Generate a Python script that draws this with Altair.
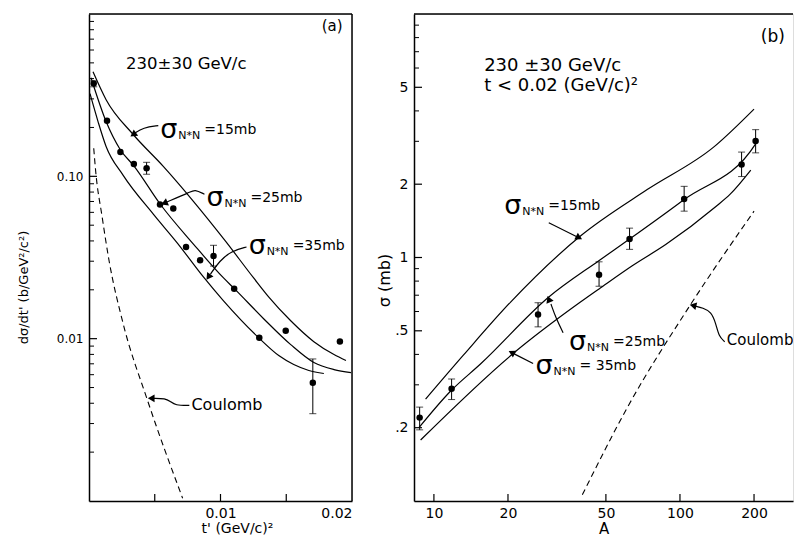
import altair as alt
import pandas as pd

FONT = "DejaVu Sans"
LW, LH = 263, 487
RW, RH = 379, 487

# ---------------- panel (a) data ----------------
a_t = [0.00036, 0.00137, 0.00239, 0.00341, 0.00438, 0.0054, 0.00641, 0.00738,
       0.00845, 0.00947, 0.01104, 0.01295, 0.01496, 0.01702, 0.01908]
a_v = [0.373, 0.220, 0.141, 0.119, 0.112, 0.067, 0.0634, 0.0367,
       0.0304, 0.0323, 0.0203, 0.01014, 0.0112, 0.00535, 0.0096]
a_err_t = [0.00036, 0.00438, 0.00947, 0.01702]
a_err_lo = [0.356, 0.103, 0.028, 0.00345]
a_err_hi = [0.387, 0.122, 0.0376, 0.0075]

a_c15_t = [0.000305, 0.0013, 0.00336, 0.00565, 0.00794, 0.01038, 0.01252, 0.01366, 0.01534, 0.0171, 0.01863, 0.01954]
a_c15_v = [0.4406, 0.2967, 0.181, 0.1152, 0.0702, 0.0399, 0.02366, 0.0181, 0.01289, 0.00958, 0.00798, 0.00733]
a_c25_t = [0.000153, 0.0013, 0.00237, 0.00344, 0.00542, 0.00794, 0.01023, 0.01107, 0.01328, 0.01534, 0.0171, 0.01863, 0.01992]
a_c25_v = [0.4049, 0.2175, 0.1464, 0.1152, 0.0673, 0.03826, 0.02366, 0.02026, 0.01327, 0.00919, 0.00713, 0.00645, 0.00618]
a_c35_t = [0.0000763, 0.000687, 0.0013, 0.0026, 0.00489, 0.00672, 0.0087, 0.01023, 0.0129, 0.01443, 0.01557, 0.01672, 0.01786]
a_c35_v = [0.323, 0.2175, 0.1528, 0.1014, 0.0585, 0.0388, 0.024, 0.0171, 0.01014, 0.00787, 0.00693, 0.00637, 0.0061]
a_coul_t = [0.00036, 0.00051, 0.00099, 0.00153, 0.00254, 0.00445, 0.00712]
a_coul_v = [0.149, 0.107, 0.0569, 0.0301, 0.0129, 0.00417, 0.00104]

a_y_major = [0.01, 0.1]
a_y_minor = [0.002, 0.003, 0.004, 0.005, 0.006, 0.007, 0.008, 0.009,
             0.02, 0.03, 0.04, 0.05, 0.06, 0.07, 0.08, 0.09,
             0.2, 0.3, 0.4, 0.5, 0.6, 0.7, 0.8, 0.9]
a_x_ticks = [0.005, 0.01, 0.015]

# annotations panel (a)
a_sig_t = [0.00542, 0.00893, 0.01214]
a_sig_v = [0.194, 0.0733, 0.0372]
a_sig_txt = ["=15mb", "=25mb", "=35mb"]
a_arrows = {
    "15": ([0.00527, 0.00412, 0.00344], [0.2055, 0.1998, 0.1836]),
    "25": ([0.00878, 0.00802, 0.00771, 0.00588], [0.0776, 0.0832, 0.0798, 0.0693]),
    "35": ([0.01198, 0.01084, 0.00992, 0.00924], [0.0367, 0.0347, 0.0301, 0.025]),
    "C": ([0.00763, 0.00656, 0.00618, 0.0058, 0.00489], [0.00388, 0.00388, 0.00411, 0.00429, 0.00429]),
}
a_head_t = [0.00336, 0.00573, 0.00908, 0.00473]
a_head_v = [0.181, 0.0683, 0.024, 0.00429]
a_head_ang = [235, 247, 215, 270]

# ---------------- panel (b) data ----------------
b_A = [8.75, 11.8, 26.5, 46.9, 62.4, 104, 178, 203]
b_s = [0.220, 0.289, 0.583, 0.85, 1.19, 1.74, 2.41, 3.01]
b_lo = [0.196, 0.261, 0.519, 0.762, 1.08, 1.55, 2.15, 2.69]
b_hi = [0.243, 0.317, 0.652, 0.96, 1.32, 1.96, 2.71, 3.35]

b_c15_A = [9.25, 13.2, 20.5, 39.4, 73.6, 137, 200]
b_c15_s = [0.262, 0.398, 0.656, 1.225, 1.90, 2.84, 4.07]
b_c25_A = [8.69, 11.7, 15.5, 29.3, 46.8, 62.4, 104, 203, 206]
b_c25_s = [0.200, 0.283, 0.366, 0.688, 0.97, 1.19, 1.73, 2.93, 3.03]
b_c35_A = [8.83, 21.1, 39.4, 46.9, 64, 87.5, 140, 160, 194]
b_c35_s = [0.178, 0.405, 0.656, 0.743, 0.925, 1.13, 1.62, 1.82, 2.285]
b_coul_A = [40.1, 61.1, 110, 200]
b_coul_s = [0.106, 0.242, 0.637, 1.55]

b_y_major = [0.2, 0.5, 1, 2, 5]
b_y_minor = [0.3, 0.4, 0.6, 0.7, 0.8, 0.9, 3, 4, 6, 7, 8, 9]
b_x_ticks = [10, 20, 50, 100, 200]

b_sig_A = [19.3, 35.4, 25.9]
b_sig_s = [1.62, 0.451, 0.357]
b_sig_txt = ["=15mb", "=25mb", "= 35mb"]
b_arrows = {
    "15": ([29.3, 38.1], [1.388, 1.217]),
    "25": ([33.5, 31.3, 29.9], [0.491, 0.565, 0.644]),
    "35": ([25.3, 21.1], [0.367, 0.403]),
    "C": ([152, 144, 140, 134, 124, 115], [0.451, 0.473, 0.535, 0.598, 0.621, 0.632]),
}
b_head_A = [38.9, 29.3, 20.7, 113]
b_head_s = [1.206, 0.675, 0.407, 0.635]
b_head_ang = [117, 338, 297, 283]

# ---------------- helpers ----------------
def series_df(d):
    rows = []
    for k, (xs, ys) in d.items():
        for i, (x, y) in enumerate(zip(xs, ys)):
            rows.append({"x": x, "y": y, "s": k, "i": i})
    return pd.DataFrame(rows)

axis_base = dict(domainColor="black", domainWidth=1.5, ticks=False, grid=False,
                 labelColor="black", labelFont=FONT, titleFont=FONT,
                 titleFontWeight="normal", titleColor="black")


def panel(xs, ys, pts, err, curves, coul, arrows, heads, sig, texts, ymaj, ymin, xt,
          xaxis, yaxis, W, H, frame_right):
    def X(ax=None):
        return alt.X("x:Q", scale=xs, axis=ax) if ax is not None else alt.X("x:Q", scale=xs)

    def Y(ax=None):
        return alt.Y("y:Q", scale=ys, axis=ax) if ax is not None else alt.Y("y:Q", scale=ys)

    layers = []
    layers.append(alt.Chart(pts).mark_circle(size=42, color="black", opacity=1)
                  .encode(x=X(xaxis), y=Y(yaxis)))
    layers.append(alt.Chart(err).mark_rule(color="black", strokeWidth=1)
                  .encode(x=X(), y=Y(), y2="y2:Q"))
    errcap = pd.concat([err[["x", "y"]], err[["x", "y2"]].rename(columns={"y2": "y"})])
    layers.append(alt.Chart(errcap).mark_tick(orient="horizontal", size=7, thickness=1, color="black")
                  .encode(x=X(), y=Y()))
    layers.append(alt.Chart(curves).mark_line(color="black", strokeWidth=1.2, interpolate="monotone", clip=True)
                  .encode(x=X(), y=Y(), detail="s:N", order="i:Q"))
    layers.append(alt.Chart(coul).mark_line(color="black", strokeWidth=1.1, strokeDash=[6, 4],
                                            interpolate="monotone", clip=True)
                  .encode(x=X(), y=Y(), order="i:Q"))
    layers.append(alt.Chart(arrows).mark_line(color="black", strokeWidth=1.2, interpolate="basis")
                  .encode(x=X(), y=Y(), detail="s:N", order="i:Q"))
    layers.append(alt.Chart(heads).mark_point(shape="triangle-up", filled=True, size=60,
                                              color="black", opacity=1)
                  .encode(x=X(), y=Y(), angle=alt.Angle("ang:Q", scale=None)))
    layers.append(alt.Chart(sig).mark_text(text="σ", fontSize=27, align="left", baseline="middle",
                                           font=FONT, color="black")
                  .encode(x=X(), y=Y()))
    layers.append(alt.Chart(sig).mark_text(text="N*N", fontSize=11, align="left", baseline="middle",
                                           dx=18, dy=6, font=FONT, color="black")
                  .encode(x=X(), y=Y()))
    layers.append(alt.Chart(sig).mark_text(fontSize=14, align="left", baseline="middle",
                                           dx=44, font=FONT, color="black")
                  .encode(x=X(), y=Y(), text="t:N"))
    for tdf, fs in texts:
        layers.append(alt.Chart(tdf).mark_text(fontSize=fs, align="left",
                                               baseline="middle", font=FONT, color="black", clip=True)
                      .encode(x=X(), y=Y(), text="t:N"))
    # inward ticks
    layers.append(alt.Chart(pd.DataFrame({"y": ymaj})).mark_rule(color="black", strokeWidth=1.2)
                  .encode(y=Y(), x=alt.value(0), x2=alt.value(8)))
    layers.append(alt.Chart(pd.DataFrame({"y": ymin})).mark_rule(color="black", strokeWidth=1)
                  .encode(y=Y(), x=alt.value(0), x2=alt.value(5)))
    layers.append(alt.Chart(pd.DataFrame({"x": xt})).mark_rule(color="black", strokeWidth=1.2)
                  .encode(x=X(), y=alt.value(H), y2=alt.value(H - 7)))
    # frame
    layers.append(alt.Chart(pd.DataFrame({"x": [0]})).mark_rule(color="black", strokeWidth=1.5)
                  .encode(x=alt.value(0), x2=alt.value(W), y=alt.value(0)))
    if frame_right:
        layers.append(alt.Chart(pd.DataFrame({"x": [0]})).mark_rule(color="black", strokeWidth=1.5)
                      .encode(x=alt.value(W), y=alt.value(0), y2=alt.value(H)))
    return alt.layer(*layers).properties(width=W, height=H)


# ---------------- panel (a) ----------------
xa = alt.Scale(domain=[0, 0.02], nice=False, zero=False)
ya = alt.Scale(type="log", domain=[0.001, 1], nice=False)
a_pts = pd.DataFrame({"x": a_t, "y": a_v})
a_err = pd.DataFrame({"x": a_err_t, "y": a_err_lo, "y2": a_err_hi})
a_curves = series_df({"15": (a_c15_t, a_c15_v), "25": (a_c25_t, a_c25_v), "35": (a_c35_t, a_c35_v)})
a_coul = pd.DataFrame({"x": a_coul_t, "y": a_coul_v, "i": range(len(a_coul_t))})
a_arr = series_df(a_arrows)
a_heads = pd.DataFrame({"x": a_head_t, "y": a_head_v, "ang": a_head_ang})
a_sig = pd.DataFrame({"x": a_sig_t, "y": a_sig_v, "t": a_sig_txt})
a_texts = [
    (pd.DataFrame({"x": [0.00282], "y": [0.494], "t": ["230±30 GeV/c"]}), 16.5),
    (pd.DataFrame({"x": [0.0177], "y": [0.844], "t": ["(a)"]}), 15),
    (pd.DataFrame({"x": [0.00779], "y": [0.00388], "t": ["Coulomb"]}), 16),
]
a_xaxis = alt.Axis(values=[0.01, 0.02], format=".2f", labelFontSize=14, labelPadding=5,
                   title="t' (GeV/c)²", titleFontSize=14, titlePadding=1, titleX=148, **axis_base)
a_yaxis = alt.Axis(values=a_y_major, format=".2f", labelFontSize=12, labelPadding=6,
                   title="dσ/dt' (b/GeV²/c²)", titleFontSize=13, titlePadding=26, titleY=273, **axis_base)
left = panel(xa, ya, a_pts, a_err, a_curves, a_coul, a_arr, a_heads, a_sig, a_texts,
             a_y_major, a_y_minor, a_x_ticks, a_xaxis, a_yaxis, LW, LH, True)

# ---------------- panel (b) ----------------
xb = alt.Scale(type="log", domain=[8.3, 288], nice=False)
yb = alt.Scale(type="log", domain=[0.1, 10], nice=False)
b_pts = pd.DataFrame({"x": b_A, "y": b_s})
b_err = pd.DataFrame({"x": b_A, "y": b_lo, "y2": b_hi})
b_curves = series_df({"15": (b_c15_A, b_c15_s), "25": (b_c25_A, b_c25_s), "35": (b_c35_A, b_c35_s)})
b_coul = pd.DataFrame({"x": b_coul_A, "y": b_coul_s, "i": range(len(b_coul_A))})
b_arr = series_df(b_arrows)
b_heads = pd.DataFrame({"x": b_head_A, "y": b_head_s, "ang": b_head_ang})
b_sig = pd.DataFrame({"x": b_sig_A, "y": b_sig_s, "t": b_sig_txt})
b_texts = [
    (pd.DataFrame({"x": [16.0], "y": [6.09], "t": ["230 ±30 GeV/c"]}), 18),
    (pd.DataFrame({"x": [16.0], "y": [5.05], "t": ["t < 0.02 (GeV/c)²"]}), 18),
    (pd.DataFrame({"x": [213], "y": [8.06], "t": ["(b)"]}), 17),
    (pd.DataFrame({"x": [155], "y": [0.458], "t": ["Coulomb"]}), 15),
]
b_xaxis = alt.Axis(values=b_x_ticks, format="d", labelFontSize=14, labelPadding=5,
                   title="A", titleFontSize=15, titlePadding=1, **axis_base)
b_yaxis = alt.Axis(values=b_y_major, labelFontSize=14, labelPadding=6,
                   labelExpr="datum.value < 0.3 ? '.2' : datum.value < 0.9 ? '.5' : format(datum.value, 'd')",
                   title="σ (mb)", titleFontSize=16, titlePadding=7, titleY=266, titleX=-30,
                   titleBaseline="middle", **axis_base)
right = panel(xb, yb, b_pts, b_err, b_curves, b_coul, b_arr, b_heads, b_sig, b_texts,
              b_y_major, b_y_minor, b_x_ticks, b_xaxis, b_yaxis, RW, RH, False)

chart = alt.hconcat(left, right, spacing=21).properties(
    padding={"left": 8, "top": 4, "right": 0, "bottom": 0}
).configure_view(stroke=None).configure(background="white")

chart.save("out.html", embed_options={"renderer": "svg", "actions": False})
